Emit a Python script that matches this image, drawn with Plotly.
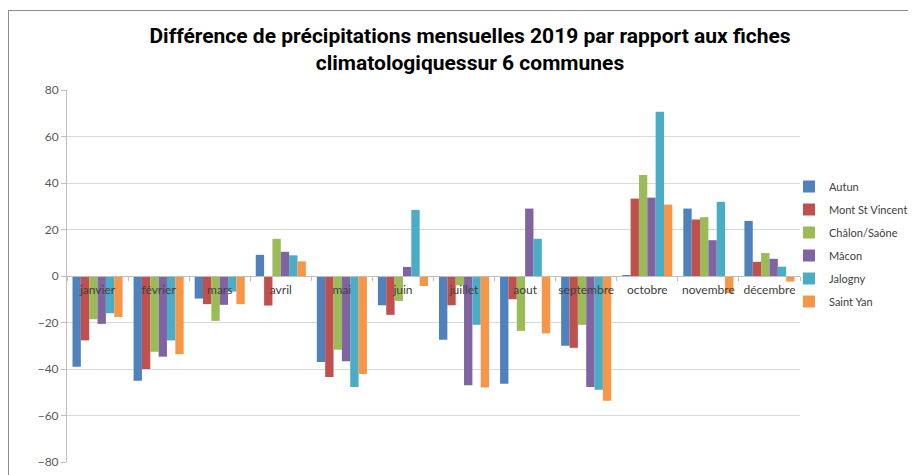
import plotly.graph_objects as go

mois = ["janvier", "février", "mars", "avril", "mai", "juin", "juillet", "aout",
        "septembre", "octobre", "novembre", "décembre"]

autun = [-39, -45, -9.7, 9.1, -37, -12.6, -27.4, -46.3, -30, 0.4, 29, 23.7]
mont_st_vincent = [-27.7, -40, -12.1, -12.7, -43.4, -16.7, -12.6, -10, -30.9, 33.3, 24.3, 6.1]
chalon_saone = [-18.6, -32.6, -19.3, 16, -31.7, -10.7, -4, -23.6, -21, 43.4, 25.3, 9.9]
macon = [-20.6, -34.7, -12.4, 10.4, -36.7, 3.9, -47, 29, -47.7, 33.7, 15.4, 7.4]
jalogny = [-16, -27.7, -6.7, 8.9, -47.7, 28.4, -21, 16, -48.9, 70.6, 31.9, 4]
saint_yan = [-17.6, -33.6, -12.1, 6.3, -42.1, -4.3, -48, -24.7, -53.7, 30.7, -7.4, -2.4]

series = [
    ("Autun", autun, "#4F81BD"),
    ("Mont St Vincent", mont_st_vincent, "#C0504D"),
    ("Châlon/Saône", chalon_saone, "#9BBB59"),
    ("Mâcon", macon, "#8064A2"),
    ("Jalogny", jalogny, "#4BACC6"),
    ("Saint Yan", saint_yan, "#F79646"),
]

yticks = [-80, -60, -40, -20, 0, 20, 40, 60, 80]

# the page has an 8px body margin, so the figure is drawn 8px in from the corner
OFF = 8
W, H = 916 - OFF, 475 - OFF
L, T = 67 - OFF, 90 - OFF
R = W - (800 - OFF)
B = H - (462 - OFF)
pw, ph = W - L - R, H - T - B

def px(x):  # page pixel -> paper x
    return (x - OFF - L) / pw

def py(y):  # page pixel -> paper y
    return (H - B - (y - OFF)) / ph

fig = go.Figure()
for i, (name, vals, col) in enumerate(series):
    fig.add_trace(go.Bar(x=mois, y=vals, name=name, marker_color=col,
                         marker_line_width=0, legendgroup=str(i)))

fig.update_layout(
    width=W, height=H,
    margin=dict(l=L, r=R, t=T, b=B, autoexpand=False),
    paper_bgcolor="white", plot_bgcolor="white",
    barmode="group", bargap=0.18, bargroupgap=0,
    font=dict(family="Lato", color="#404040", size=12),
    title=dict(text="<b>Différence de précipitations mensuelles 2019 par rapport aux fiches<br>climatologiquessur 6 communes</b>",
               x=(470 - OFF) / W, xanchor="center", y=1 - 35 / H, yanchor="top",
               font=dict(family="Roboto", size=21, color="#000000")),
    legend=dict(x=px(789), xanchor="left", y=py(244), yanchor="middle",
                font=dict(size=11, color="#404040"), tracegroupgap=4,
                itemwidth=30, bgcolor="rgba(0,0,0,0)"),
    showlegend=True,
)

fig.update_yaxes(range=[-80, 80], tickvals=yticks, showgrid=True, gridcolor="#D9D9D9",
                 gridwidth=1, zeroline=False, showline=True, linecolor="#BFBFBF",
                 ticks="outside", ticklen=5, tickcolor="#BFBFBF", automargin=False,
                 tickfont=dict(size=12, color="#595959"), fixedrange=True)
fig.update_xaxes(anchor="free", position=0.5, showline=True, linecolor="#BFBFBF",
                 ticks="outside", ticklen=4, tickcolor="#BFBFBF", tickson="boundaries",
                 tickangle=0, automargin=False, ticklabelstandoff=3,
                 showgrid=False, tickfont=dict(size=12, color="#404040"), fixedrange=True)

# outer chart frame (left and top edges)
fig.add_shape(type="line", xref="paper", yref="paper", x0=px(8.5), x1=px(8.5), y0=py(10), y1=py(480),
              line=dict(color="#8C8C8C", width=1))
fig.add_shape(type="line", xref="paper", yref="paper", x0=px(8), x1=px(920), y0=py(10.5), y1=py(10.5),
              line=dict(color="#8C8C8C", width=1))

fig.write_html("out.html")
